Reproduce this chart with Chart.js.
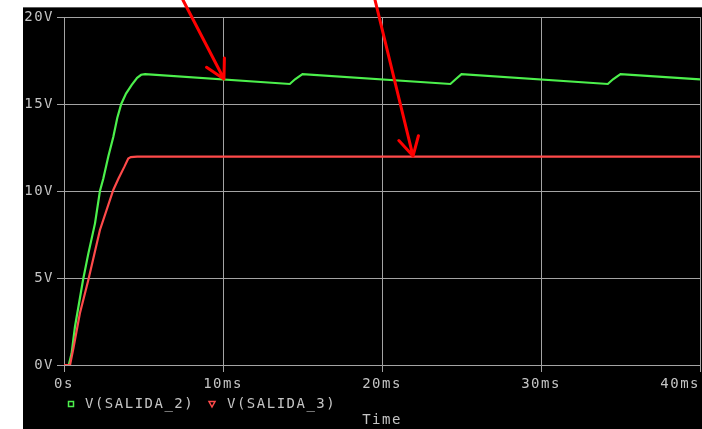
<!DOCTYPE html>
<html><head><meta charset="utf-8">
<script src="https://cdn.jsdelivr.net/npm/chart.js@4.4.1/dist/chart.umd.min.js"></script>
<style>html,body{margin:0;padding:0;background:#fff;overflow:hidden}canvas{display:block}</style>
</head><body>
<canvas id="c" width="702" height="429"></canvas>
<script>
// ---- data (time in ms, voltage in V) ----
const seriesNames = ['V(SALIDA_2)', 'V(SALIDA_3)'];
const salida2Time = [0, 0.3, 0.48, 0.69, 1.2, 1.53, 1.95, 2.26, 2.47, 2.79, 3.1, 3.35, 3.6, 3.9, 4.26, 4.6, 4.85, 5.1,
  14.2, 14.53, 15.0, 24.3, 24.63, 25.0, 34.2, 34.53, 35.0, 40];
const salida2Volt = [0, 0, 0.67, 2.2, 4.9, 6.4, 8.14, 10.0, 10.7, 12.0, 13.1, 14.2, 15.0, 15.6, 16.1, 16.5, 16.68, 16.72,
  16.15, 16.42, 16.72, 16.15, 16.42, 16.72, 16.15, 16.42, 16.72, 16.41];
const salida3Time = [0, 0.38, 0.6, 1.0, 1.53, 2.26, 3.1, 3.42, 3.8, 4.04, 4.2, 4.6, 40];
const salida3Volt = [0, 0, 1.0, 2.97, 4.89, 7.76, 10.06, 10.7, 11.4, 11.87, 11.95, 11.97, 11.97];
const xTickLabels = ['0s', '10ms', '20ms', '30ms', '40ms'];
const yTickLabels = ['0V', '5V', '10V', '15V', '20V'];
const xTitle = 'Time';
// annotation arrows, in data units (ms, V)
const arrowTails = [[7.48, 20.98], [19.56, 20.98]];
const arrowTips = [[10.06, 16.44], [21.95, 12.01]];

// ---- styles ----
const GREEN = '#4cf04c';
const RED = '#ff4a4a';
const TEXT = '#c4c4c4';
const GRID = '#a4a4a4';
const FAMILY = '"DejaVu Sans Mono", monospace';
const FSIZE = 14;
const SPACING = '1.5px';

const zip = (t, v) => t.map((x, i) => ({ x: x, y: v[i] }));

const framePlugin = {
  id: 'frame',
  beforeUpdate(chart) { chart.ctx.letterSpacing = SPACING; },
  beforeDraw(chart) {
    const c = chart.ctx;
    c.save();
    c.fillStyle = '#ffffff';
    c.fillRect(0, 0, chart.width, chart.height);
    c.fillStyle = '#000000';
    c.fillRect(23, 7, chart.width - 23, chart.height - 7);
    c.fillStyle = '#5c5c5c';
    c.fillRect(23, 7, chart.width - 23, 1);
    c.restore();
    c.letterSpacing = SPACING;
  },
  afterDraw(chart) {
    const c = chart.ctx;
    c.save();
    // legend
    c.font = FSIZE + 'px ' + FAMILY;
    c.letterSpacing = SPACING;
    c.textBaseline = 'middle';
    c.textAlign = 'left';
    const ly = 404;
    c.lineWidth = 1.5;
    c.strokeStyle = GREEN;
    c.strokeRect(68.5, 401.5, 5, 5);
    c.fillStyle = TEXT;
    c.fillText(seriesNames[0], 85, ly);
    c.strokeStyle = RED;
    c.beginPath();
    c.moveTo(209, 401.5); c.lineTo(215, 401.5); c.lineTo(212, 407); c.closePath();
    c.stroke();
    c.fillText(seriesNames[1], 227, ly);
    // arrows
    const xs = chart.scales.x, ys = chart.scales.y;
    c.strokeStyle = '#ff0000';
    c.lineWidth = 3;
    c.lineCap = 'round';
    c.lineJoin = 'round';
    for (let i = 0; i < arrowTails.length; i++) {
      const x0 = xs.getPixelForValue(arrowTails[i][0]), y0 = ys.getPixelForValue(arrowTails[i][1]);
      const x1 = xs.getPixelForValue(arrowTips[i][0]), y1 = ys.getPixelForValue(arrowTips[i][1]);
      c.beginPath();
      c.moveTo(x0, y0); c.lineTo(x1, y1);
      const ang = Math.atan2(y1 - y0, x1 - x0) + Math.PI;
      for (const s of [-1, 1]) {
        const a = ang + s * 0.5;
        c.moveTo(x1, y1);
        c.lineTo(x1 + 21 * Math.cos(a), y1 + 21 * Math.sin(a));
      }
      c.stroke();
    }
    c.restore();
  }
};

new Chart(document.getElementById('c'), {
  type: 'line',
  data: {
    datasets: [
      { label: seriesNames[0], data: zip(salida2Time, salida2Volt), borderColor: GREEN, borderWidth: 2.2, pointRadius: 0, tension: 0, order: 1 },
      { label: seriesNames[1], data: zip(salida3Time, salida3Volt), borderColor: RED, borderWidth: 2.2, pointRadius: 0, tension: 0, order: 0 }
    ]
  },
  options: {
    responsive: false,
    animation: false,
    devicePixelRatio: 1,
    layout: { padding: { top: 17, right: 2, left: 0, bottom: 0 } },
    plugins: { legend: { display: false }, tooltip: { enabled: false } },
    scales: {
      x: {
        type: 'linear', min: 0, max: 40,
        afterFit(s) { s.height = 64; s.paddingLeft = 0; s.paddingRight = 0; },
        ticks: {
          stepSize: 10, color: TEXT, padding: 4, maxRotation: 0, autoSkip: false,
          font: { family: FAMILY, size: FSIZE },
          callback: (v, i, arr) => {
            const lbl = xTickLabels[Math.round(v / 10)];
            return i === arr.length - 1 ? lbl + '    ' : lbl;
          }
        },
        grid: { color: GRID, lineWidth: 1, tickLength: 7, drawTicks: true },
        border: { color: GRID, width: 1 },
        title: { display: true, text: xTitle, color: TEXT, font: { family: FAMILY, size: FSIZE }, padding: { top: 0, bottom: 0 } }
      },
      y: {
        type: 'linear', min: 0, max: 20,
        afterFit(s) { s.width = 64; s.paddingTop = 0; s.paddingBottom = 0; },
        ticks: {
          stepSize: 5, color: TEXT, padding: 3,
          font: { family: FAMILY, size: FSIZE },
          callback: (v) => yTickLabels[Math.round(v / 5)]
        },
        grid: { color: GRID, lineWidth: 1, tickLength: 7, drawTicks: true },
        border: { color: GRID, width: 1 }
      }
    }
  },
  plugins: [framePlugin]
});
</script>
</body></html>
